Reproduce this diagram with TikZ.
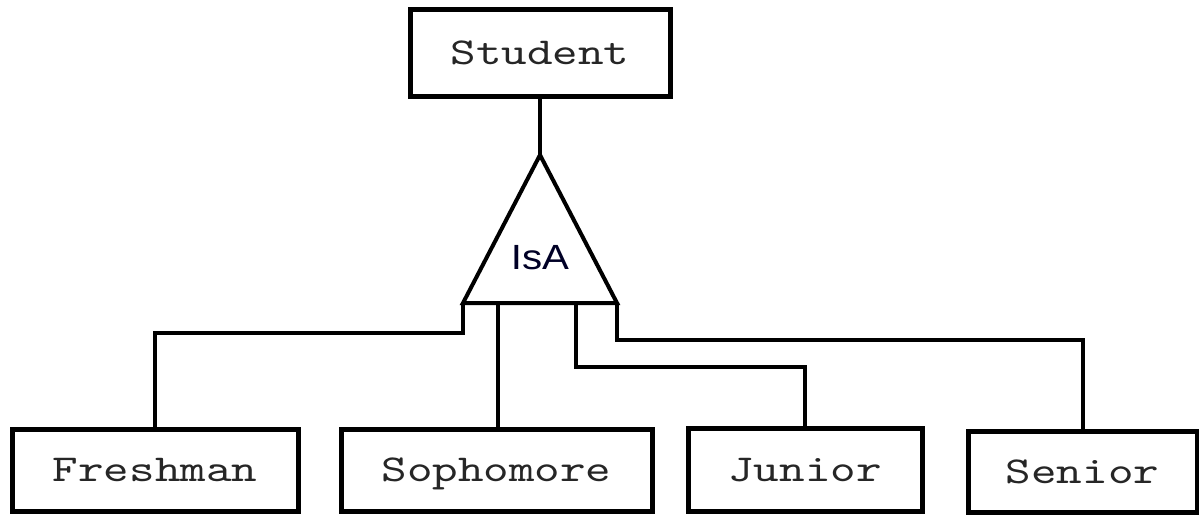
\documentclass[tikz,border=0pt]{standalone}
\usepackage{fontspec}
\newfontfamily\boxfont[Extension=.otf, FakeStretch=1.28]{lmmono10-regular}
\newfontfamily\isafont[FakeStretch=1.15]{Liberation Sans}
\begin{document}
\begin{tikzpicture}[x=1pt,y=-1pt,
  entity/.style={draw=black, line width=5pt, rectangle, inner sep=0pt,
    text depth=0pt, text=black!85,
    font=\boxfont\fontsize{38}{40}\selectfont},
  link/.style={draw=black, line width=4pt},
  isalabel/.style={inner sep=0pt, text=black!85!blue,
    font=\isafont\fontsize{35}{38}\selectfont}]
% canvas
\fill[white] (0,0) rectangle (1199,514);
\useasboundingbox (0,0) rectangle (1199,514);

% entity sets
\node[entity, minimum width=260pt, minimum height=87pt] (student)   at (540,53)      {Student};
\node[entity, minimum width=286pt, minimum height=82pt] (freshman)  at (155,470)     {Freshman};
\node[entity, minimum width=311pt, minimum height=82pt] (sophomore) at (496.5,470)   {Sophomore};
\node[entity, minimum width=234pt, minimum height=83pt] (junior)    at (805,469.5)   {Junior};
\node[entity, minimum width=229pt, minimum height=81pt] (senior)    at (1082.5,471.5){Senior};

% IsA triangle
\coordinate (apex)  at (540,155);
\coordinate (baseL) at (463,303);
\coordinate (baseR) at (617,303);
\coordinate (sLeg)  at (498,303);
\coordinate (jLeg)  at (576,303);
\draw[link, line join=miter] (apex) -- (baseL) -- (baseR) -- cycle;
\node[isalabel] (isa) at (540,258) {IsA};

% connectors
\draw[link] (student.south) -- (apex);
\draw[link] (baseL) -- ++(0,30) -| (freshman.north);
\draw[link] (sLeg) -- (sLeg |- sophomore.north);
\draw[link] (jLeg) -- ++(0,64) -| (junior.north);
\draw[link] (baseR) -- ++(0,37) -| (senior.north);
\end{tikzpicture}
\end{document}
